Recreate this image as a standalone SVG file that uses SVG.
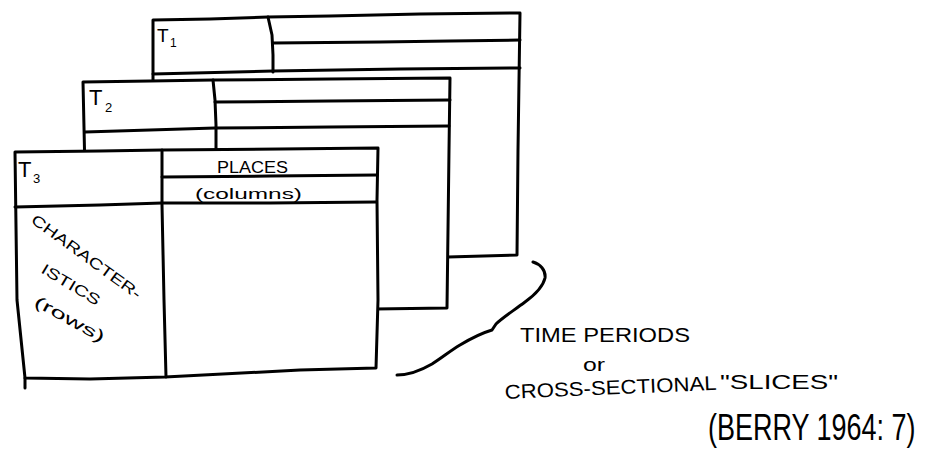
<svg xmlns="http://www.w3.org/2000/svg" width="926" height="462" viewBox="0 0 926 462">
<style>
.ln{fill:none;stroke:#000;stroke-width:3;stroke-linecap:round;stroke-linejoin:round}
.fr{fill:#fff;stroke:#000;stroke-width:3;stroke-linejoin:round}
.t{font-family:"Liberation Sans",Arial,sans-serif;fill:#000}
</style>
<rect width="926" height="462" fill="#fff"/>
<g id="frame-t1">
<path class="fr" d="M153,20 L210,19 L268,17 L330,16 L420,14 L520,13 L519,80 L518,150 L517,255 L448,257 L153,257 Z"/>
<path class="ln" d="M268,17 L272,35 L273,55 L273,72"/>
<path class="ln" d="M273,43 L380,42 L450,41 L520,40"/>
<path class="ln" d="M153,74 L273,71 L400,69 L520,68"/>
<text class="t" x="157" y="42" font-size="19">T</text>
<text class="t" x="170" y="47" font-size="12">1</text>
</g>
<g id="frame-t2">
<path class="fr" d="M83,82 L150,81 L213,80 L330,79 L450,78 L449,150 L448,230 L447,308 L375,309 L88,309 Z"/>
<path class="ln" d="M213,80 L215,100 L216,125 L216,150"/>
<path class="ln" d="M215,102 L330,101 L450,100"/>
<path class="ln" d="M85,132 L215,128 L330,127 L449,126"/>
<text class="t" x="89" y="105" font-size="22">T</text>
<text class="t" x="105" y="112" font-size="13">2</text>
</g>
<g id="frame-t3">
<path class="fr" d="M15,152 L100,151 L162,150 L280,149 L378,148 L377,200 L378,300 L376,368 L300,370 L165,377 L90,379 L25,378 L17,300 Z"/>
<path class="ln" d="M25,378 L25,388"/>
<path class="ln" d="M162,150 L162,205 L164,300 L166,377"/>
<path class="ln" d="M162,177 L270,176 L377,175"/>
<path class="ln" d="M15,207 L100,205 L162,203 L270,203 L376,202"/>
<text class="t" x="18" y="177" font-size="22">T</text>
<text class="t" x="33" y="183" font-size="13">3</text>
<text class="t" x="217" y="173" font-size="16" textLength="71" lengthAdjust="spacingAndGlyphs">PLACES</text>
<text class="t" x="195" y="199" font-size="15" textLength="107" lengthAdjust="spacingAndGlyphs">(columns)</text>
<text class="t" font-size="15" transform="translate(30,222) rotate(36)" textLength="132" lengthAdjust="spacingAndGlyphs">CHARACTER-</text>
<text class="t" font-size="15" transform="translate(40,272) rotate(31)" textLength="66" lengthAdjust="spacingAndGlyphs">ISTICS</text>
<text class="t" font-size="16" transform="translate(33,305) rotate(29)" textLength="78" lengthAdjust="spacingAndGlyphs">(rows)</text>
</g>
<g id="connectors">
<path class="ln" stroke-width="3.5" d="M533,262 C540,264 546,270 545,278 C543,287 536,294 525,302 C513,311 502,318 496,324 L492,330 C482,333 470,339 460,345 C450,351 443,357 432,364 C420,371 408,375 397,375"/>
</g>
<g id="caption">
<text class="t" x="520" y="342" font-size="20" textLength="170" lengthAdjust="spacingAndGlyphs">TIME PERIODS</text>
<text class="t" x="583" y="371" font-size="18" textLength="22" lengthAdjust="spacingAndGlyphs">or</text>
<text class="t" font-size="20" transform="translate(505,399) rotate(-2.5)" textLength="212" lengthAdjust="spacingAndGlyphs">CROSS-SECTIONAL</text>
<text class="t" x="720" y="389" font-size="20" textLength="118" lengthAdjust="spacingAndGlyphs">"SLICES"</text>
<text class="t" font-size="27" transform="translate(708,440) scale(1,1.4)">(BERRY 1964: 7)</text>
</g>
</svg>
